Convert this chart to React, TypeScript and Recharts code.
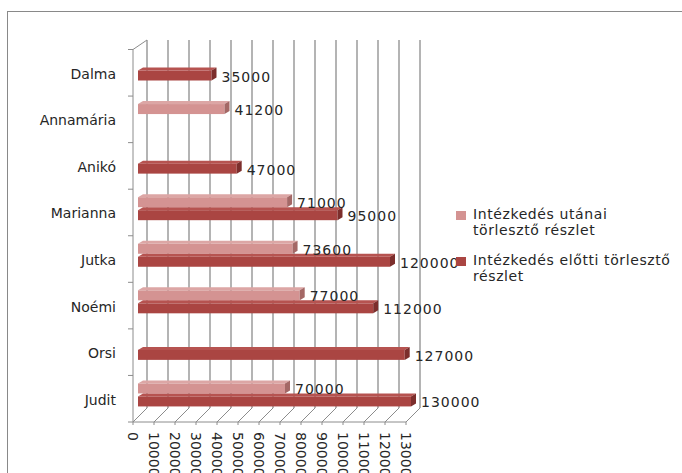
import { BarChart, Bar, XAxis, YAxis, CartesianGrid, LabelList } from 'recharts'

// categories top to bottom, as drawn
const names = ['Dalma', 'Annamária', 'Anikó', 'Marianna', 'Jutka', 'Noémi', 'Orsi', 'Judit']
const afterValues = [null, 41200, null, 71000, 73600, 77000, null, 70000]
const beforeValues = [35000, null, 47000, 95000, 120000, 112000, 127000, 130000]
const xTicks = [0, 10000, 20000, 30000, 40000, 50000, 60000, 70000, 80000, 90000, 100000, 110000, 120000, 130000]
const seriesNames = ['Intézkedés utánai törlesztő részlet', 'Intézkedés előtti törlesztő részlet']

const data = names.map((name, i) => ({ name, after: afterValues[i], before: beforeValues[i] }))

const W = 682
const H = 473
const PLOT_LEFT = 138
const PLOT_RIGHT = 411
const PLOT_TOP = 44.5
const PLOT_BOTTOM = 417
const FONT = '"DejaVu Sans", sans-serif'
const GRID = '#8c8c8c'
const TEXT = '#262626'

const PINK = { front: '#d49392', top: '#dca6a5', side: '#a46866' }
const RED = { front: '#aa4542', top: '#b65350', side: '#7c2e2c' }

function make3DBar(c: { front: string; top: string; side: string }) {
  return (p: any) => {
    const x = Number(p.x)
    const y = Number(p.y)
    const w = Number(p.width)
    const h = Number(p.height)
    if (!w || w <= 0 || isNaN(x)) return <g />
    const dx = 5
    const dy = 3
    return (
      <g>
        <rect x={x} y={y + dy} width={w} height={h - dy} fill={c.front} />
        <polygon points={`${x},${y + dy} ${x + dx},${y} ${x + w + dx},${y} ${x + w},${y + dy}`} fill={c.top} />
        <polygon
          points={`${x + w},${y + dy} ${x + w + dx},${y} ${x + w + dx},${y + h - dy} ${x + w},${y + h}`}
          fill={c.side}
        />
      </g>
    )
  }
}

const renderValue = (p: any) => {
  if (p.value == null || p.value === '') return null
  const x = Number(p.x) + Number(p.width) + 10
  const y = Number(p.y) + Number(p.height) / 2 + 7.5
  return (
    <text x={x} y={y} fontSize={14} fontFamily={FONT} letterSpacing={1} fill={TEXT}>
      {p.value}
    </text>
  )
}

// back wall gridlines plus floor diagonals
const gridLine = (p: any) => {
  const x = Number(p.x1)
  const backTop = Number(p.y1) - 4.5
  const backBottom = Number(p.y2) - 9
  return (
    <g key={`g-${x}`}>
      <line x1={x + 9} y1={backTop} x2={x + 9} y2={backBottom} stroke={GRID} strokeWidth={1.3} />
      <line x1={x - 5} y1={Number(p.y2) + 5} x2={x + 9} y2={backBottom} stroke={GRID} strokeWidth={1} />
      {Math.abs(x - PLOT_LEFT) < 1 && (
        <line x1={x - 5} y1={Number(p.y1) + 5} x2={x + 9} y2={backTop} stroke={GRID} strokeWidth={1} />
      )}
    </g>
  )
}

const XTick = (p: any) => {
  const tx = Number(p.x) - 10
  const ty = PLOT_BOTTOM + 15
  return (
    <text x={tx} y={ty} transform={`rotate(90 ${tx} ${ty})`} fontSize={14} fontFamily={FONT} fill={TEXT}>
      {p.payload.value}
    </text>
  )
}

const YTick = (p: any) => {
  const y = Number(p.y)
  const band = (PLOT_BOTTOM - PLOT_TOP) / names.length
  const last = p.index === names.length - 1
  return (
    <g>
      <text x={116} y={y + 11} textAnchor="end" fontSize={14} fontFamily={FONT} fill={TEXT}>
        {p.payload.value}
      </text>
      <line x1={PLOT_LEFT - 10} x2={PLOT_LEFT - 5} y1={y - band / 2 + 5} y2={y - band / 2 + 5} stroke={GRID} />
      {last && (
        <line x1={PLOT_LEFT - 10} x2={PLOT_LEFT - 5} y1={y + band / 2 + 5} y2={y + band / 2 + 5} stroke={GRID} />
      )}
    </g>
  )
}

function LegendBox() {
  const items = [
    { color: PINK.front, lines: ['Intézkedés utánai', 'törlesztő részlet'], top: 205.5 },
    { color: RED.front, lines: ['Intézkedés előtti törlesztő', 'részlet'], top: 251.5 },
  ]
  return (
    <>
      {items.map((it, i) => (
        <div key={i} title={seriesNames[i]} style={{ position: 'absolute', left: 456, top: it.top }}>
          <div style={{ position: 'absolute', left: 0, top: 5, width: 10, height: 9, background: it.color }} />
          <div
            style={{
              position: 'absolute',
              left: 17,
              top: 0,
              whiteSpace: 'nowrap',
              fontFamily: FONT,
              fontSize: 14,
              lineHeight: '16.5px',
              letterSpacing: 0.6,
              color: TEXT,
            }}
          >
            {it.lines[0]}
            <br />
            {it.lines[1]}
          </div>
        </div>
      ))}
    </>
  )
}

export default function App() {
  return (
    <div style={{ position: 'absolute', left: 0, top: 0, width: W, height: H, overflow: 'hidden', background: '#fff' }}>
      <div
        style={{
          position: 'absolute',
          left: 7,
          top: 11,
          width: 720,
          height: 520,
          border: '1px solid #898989',
        }}
      />
      <div style={{ position: 'absolute', left: 0, top: 0 }}>
        <BarChart
          width={W}
          height={H}
          data={data}
          layout="vertical"
          margin={{ top: PLOT_TOP, right: W - PLOT_RIGHT, bottom: 0, left: 0 }}
          barGap={0}
          barSize={13}
        >
          <CartesianGrid horizontal={false} vertical={gridLine} />
          <XAxis
            type="number"
            domain={[0, 130000]}
            ticks={xTicks}
            interval={0}
            height={H - PLOT_BOTTOM}
            tick={XTick}
            tickSize={3}
            axisLine={{ stroke: GRID, transform: 'translate(-5 5)' }}
            tickLine={{ stroke: GRID, transform: 'translate(-5 5)' }}
          />
          <YAxis
            type="category"
            dataKey="name"
            width={PLOT_LEFT}
            tick={YTick}
            tickLine={false}
            axisLine={{ stroke: GRID, transform: 'translate(-5 5)' }}
          />
          <Bar dataKey="after" name={seriesNames[0]} fill={PINK.front} shape={make3DBar(PINK)} isAnimationActive={false}>
            <LabelList dataKey="after" content={renderValue} />
          </Bar>
          <Bar dataKey="before" name={seriesNames[1]} fill={RED.front} shape={make3DBar(RED)} isAnimationActive={false}>
            <LabelList dataKey="before" content={renderValue} />
          </Bar>
        </BarChart>
      </div>
      <LegendBox />
    </div>
  )
}
